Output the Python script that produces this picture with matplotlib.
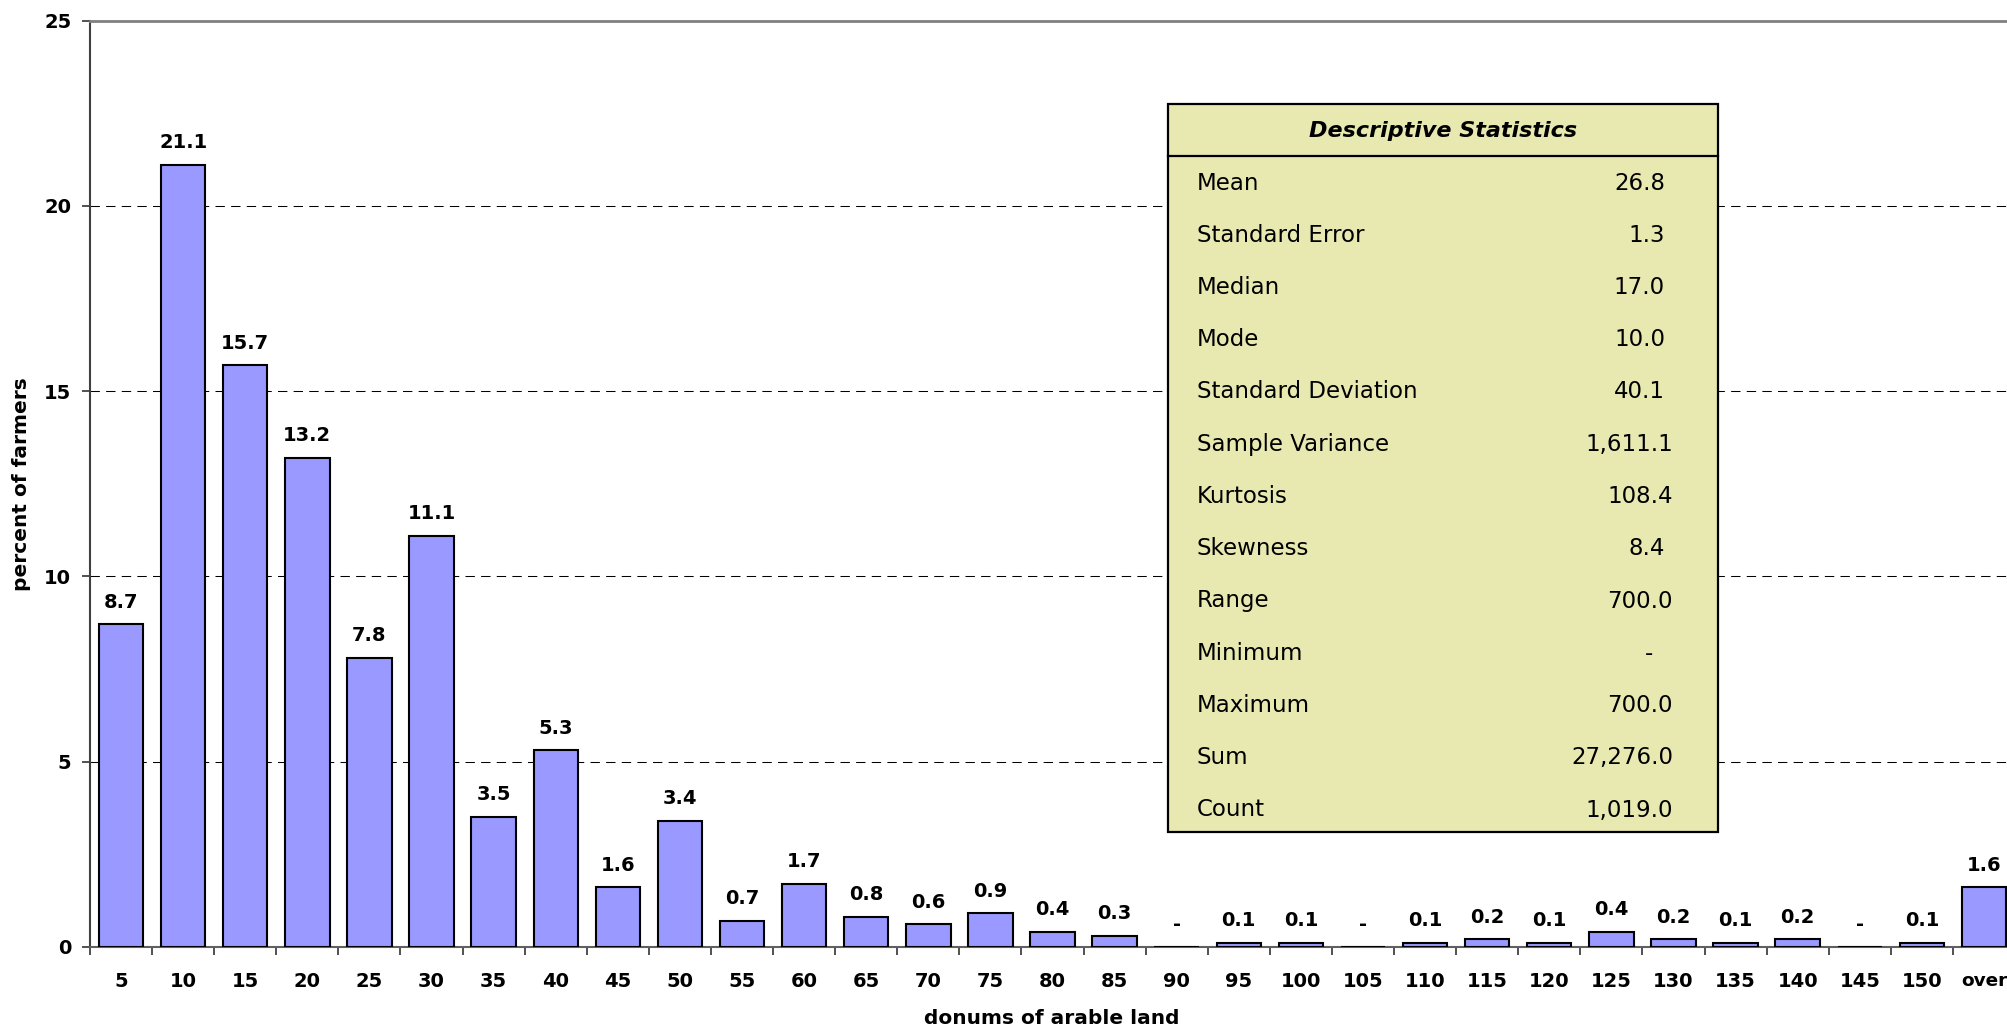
import matplotlib
matplotlib.use("Agg")
import matplotlib.pyplot as plt
from matplotlib.patches import Rectangle
import numpy as np

plt.rcParams['font.family'] = ['DejaVu Sans']

# data
categories = ['5', '10', '15', '20', '25', '30', '35', '40', '45', '50',
              '55', '60', '65', '70', '75', '80', '85', '90', '95', '100',
              '105', '110', '115', '120', '125', '130', '135', '140', '145', '150', 'over']
percent = [8.7, 21.1, 15.7, 13.2, 7.8, 11.1, 3.5, 5.3, 1.6, 3.4,
           0.7, 1.7, 0.8, 0.6, 0.9, 0.4, 0.3, 0.0, 0.1, 0.1,
           0.0, 0.1, 0.2, 0.1, 0.4, 0.2, 0.1, 0.2, 0.0, 0.1, 1.6]

stat_names = ['Mean', 'Standard Error', 'Median', 'Mode', 'Standard Deviation',
              'Sample Variance', 'Kurtosis', 'Skewness', 'Range', 'Minimum',
              'Maximum', 'Sum', 'Count']
stat_values = ['26.8', '1.3', '17.0', '10.0', '40.1', '1,611.1', '108.4', '8.4',
               '700.0', '-', '700.0', '27,276.0', '1,019.0']

W, H = 2008, 1030
fig = plt.figure(figsize=(W / 100, H / 100), dpi=100)


def fx(px):
    return px / W


def fy(py):
    return 1 - py / H


ax = fig.add_axes([fx(90), fy(946.7), 1925 / W, (946.7 - 20.7) / H])

x = np.arange(len(categories))
ax.bar(x, percent, width=0.715, color='#9999FF', edgecolor='black',
       linewidth=1.5, zorder=3)

for xi, v in zip(x, percent):
    lab = '-' if v == 0 else f'{v:.1f}'
    ax.annotate(lab, (xi, v), xytext=(0, 12), textcoords='offset points',
                ha='center', va='baseline', fontsize=14, fontweight='bold')

ax.set_xlim(-0.5, len(categories) - 0.5)
ax.set_ylim(0, 25)
ax.set_yticks([0, 5, 10, 15, 20, 25])
ax.yaxis.grid(True, color='black', linewidth=0.75, linestyle=(0, (9, 6)), zorder=0)
ax.set_axisbelow(True)

ax.set_xticks(x)
ax.set_xticklabels(categories, fontsize=14, fontweight='bold')
ax.get_xticklabels()[-1].set_fontsize(13.3)  # keep 'over' inside the figure edge
ax.set_xticks(np.arange(len(categories) + 1) - 0.5, minor=True)
ax.tick_params(axis='x', which='major', length=0, pad=18)
ax.tick_params(axis='x', which='minor', length=5.5, width=1.2, color='#333333')
ax.tick_params(axis='y', length=5.5, width=1.2, color='#333333', pad=8)
for t in ax.get_yticklabels():
    t.set_fontsize(14)
    t.set_fontweight('bold')

ax.spines['right'].set_visible(False)
ax.spines['top'].set_color('#808080')
ax.spines['top'].set_linewidth(2)
ax.spines['left'].set_color('#404040')
ax.spines['left'].set_linewidth(1.5)
ax.spines['bottom'].set_color('#606060')
ax.spines['bottom'].set_linewidth(1.5)

fig.text(fx(22), fy(483.7), 'percent of farmers', rotation=90, ha='center',
         va='center', fontsize=14.5, fontweight='bold')
fig.text(fx(1052), fy(1018), 'donums of arable land', ha='center',
         va='center', fontsize=14.5, fontweight='bold')

# descriptive statistics box
box_l, box_r, box_t, box_b, head_b = 1168, 1718, 104, 832, 156
fig.patches.append(Rectangle((fx(box_l), fy(box_b)), (box_r - box_l) / W,
                             (box_b - box_t) / H, transform=fig.transFigure,
                             facecolor='#E8E9B1', edgecolor='black',
                             linewidth=1.6, zorder=5))
fig.add_artist(plt.Line2D([fx(box_l), fx(box_r)], [fy(head_b), fy(head_b)],
                          transform=fig.transFigure, color='black',
                          linewidth=1.6, zorder=6))
fig.text(fx((box_l + box_r) / 2), fy(131), 'Descriptive Statistics',
         ha='center', va='center', fontsize=16, fontweight='bold',
         fontstyle='italic', zorder=7)

row_y0, row_dy = 183, 52.25
for i, (name, val) in enumerate(zip(stat_names, stat_values)):
    yy = fy(row_y0 + i * row_dy)
    fig.text(fx(1197), yy, name, ha='left', va='center', fontsize=16.5, zorder=7)
    if val == '-':
        fig.text(fx(1649), yy, val, ha='center', va='center', fontsize=16.5, zorder=7)
    else:
        xr = 1673 if len(val) >= 5 else 1665
        fig.text(fx(xr), yy, val, ha='right', va='center', fontsize=16.5, zorder=7)

fig.savefig('out.png', dpi=100)
